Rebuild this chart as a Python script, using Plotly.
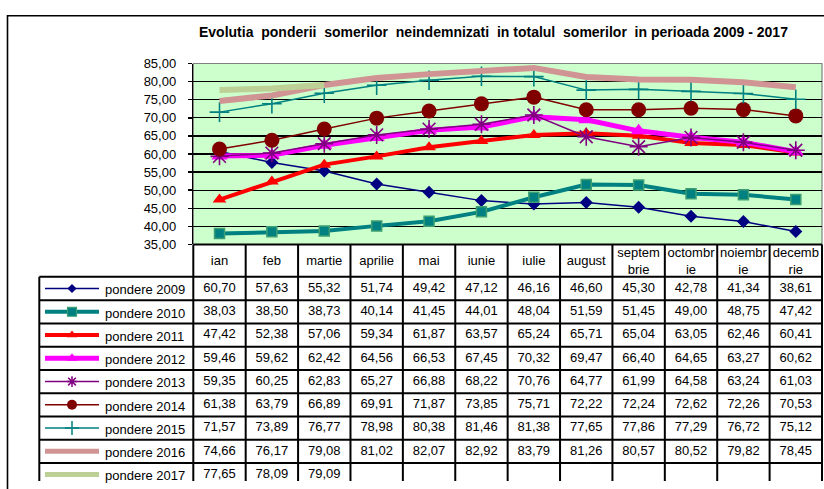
import plotly.graph_objects as go

# ---------------- data ----------------
months = ["ian", "feb", "martie", "aprilie", "mai", "iunie", "iulie", "august",
          "septembrie", "octombrie", "noiembrie", "decembrie"]
month_labels = ["ian", "feb", "martie", "aprilie", "mai", "iunie", "iulie", "august",
                "septem<br>brie", "octombr<br>ie", "noiembr<br>ie", "decemb<br>rie"]

pondere_2009 = [60.70, 57.63, 55.32, 51.74, 49.42, 47.12, 46.16, 46.60, 45.30, 42.78, 41.34, 38.61]
pondere_2010 = [38.03, 38.50, 38.73, 40.14, 41.45, 44.01, 48.04, 51.59, 51.45, 49.00, 48.75, 47.42]
pondere_2011 = [47.42, 52.38, 57.06, 59.34, 61.87, 63.57, 65.24, 65.71, 65.04, 63.05, 62.46, 60.41]
pondere_2012 = [59.46, 59.62, 62.42, 64.56, 66.53, 67.45, 70.32, 69.47, 66.40, 64.65, 63.27, 60.62]
pondere_2013 = [59.35, 60.25, 62.83, 65.27, 66.88, 68.22, 70.76, 64.77, 61.99, 64.58, 63.24, 61.03]
pondere_2014 = [61.38, 63.79, 66.89, 69.91, 71.87, 73.85, 75.71, 72.22, 72.24, 72.62, 72.26, 70.53]
pondere_2015 = [71.57, 73.89, 76.77, 78.98, 80.38, 81.46, 81.38, 77.65, 77.86, 77.29, 76.72, 75.12]
pondere_2016 = [74.66, 76.17, 79.08, 81.02, 82.07, 82.92, 83.79, 81.26, 80.57, 80.52, 79.82, 78.45]
pondere_2017 = [77.65, 78.09, 79.09]

series_names = ["pondere 2009", "pondere 2010", "pondere 2011", "pondere 2012", "pondere 2013",
                "pondere 2014", "pondere 2015", "pondere 2016", "pondere 2017"]
series_values = [pondere_2009, pondere_2010, pondere_2011, pondere_2012, pondere_2013,
                 pondere_2014, pondere_2015, pondere_2016, pondere_2017]

title_text = ("Evolutia\u00a0 ponderii\u00a0 somerilor\u00a0 neindemnizati\u00a0 in totalul\u00a0 "
              "somerilor\u00a0 in perioada 2009 - 2017")

# ---------------- styles ----------------
styles = [
    dict(color="#000080", width=1.5, symbol="diamond", size=10, msize=7, lw=1.5, mline=None),
    dict(color="#008080", width=4, symbol="square", size=10, msize=9, lw=4, mline="#3E9E72"),
    dict(color="#FF0000", width=4, symbol="triangle-up", size=12, msize=9, lw=4, mline=None),
    dict(color="#FF00FF", width=5, symbol="triangle-up", size=14, msize=10, lw=5, mline=None),
    dict(color="#800080", width=1.5, symbol="asterisk-open", size=15, msize=9, lw=1.5, mline=None),
    dict(color="#800000", width=1.5, symbol="circle", size=15, msize=10, lw=1.5, mline=None),
    dict(color="#008080", width=1.5, symbol="cross-thin-open", size=14, msize=10, lw=1.5, mline=None),
    dict(color="#D19494", width=6, symbol=None, size=0, msize=0, lw=5, mline=None),
    dict(color="#BDD095", width=6, symbol=None, size=0, msize=0, lw=5, mline=None),
]

W, H = 824, 489
FONT = "Liberation Sans, Arial, sans-serif"
TXT = 13

# pixel geometry
plot_left, plot_right = 193.3, 822.0
plot_top, plot_bottom = 58.3, 245.0
n = len(months)
cw = (plot_right - plot_left) / n          # column width in px
row_h = 24.0
header_h = 33.4 / row_h                   # header height in row units
legend_left_px = 39.3

def px_x(px):
    return px / W

def px_y(py):
    return 1 - py / H

def col_units(px):
    return -0.5 + (px - plot_left) / cw

fig = go.Figure()

# ---------------- main lines ----------------
xs = list(range(n))
for name, vals, st in zip(series_names, series_values, styles):
    mode = "lines+markers" if st["symbol"] else "lines"
    marker = dict(symbol=st["symbol"] or "circle", size=st["size"], color=st["color"])
    if st["symbol"] in ("asterisk-open", "cross-thin-open"):
        marker["line"] = dict(color=st["color"], width=1.6)
    elif st["mline"]:
        marker["line"] = dict(color=st["mline"], width=1.5)
    else:
        marker["line"] = dict(width=0)
    fig.add_trace(go.Scatter(
        x=xs[:len(vals)], y=vals, mode=mode, name=name,
        line=dict(color=st["color"], width=st["width"]),
        marker=marker, xaxis="x", yaxis="y", showlegend=False, hoverinfo="skip",
    ))

# ---------------- data table (x2 / y2) ----------------
x2_left_px, x2_right_px = 36.0, 824.0
y2_top_px, y2_bottom_px = 241.0, 489.0
x2_range = [col_units(x2_left_px), col_units(x2_right_px)]
y2_range = [(y2_bottom_px - plot_bottom) / row_h, (y2_top_px - plot_bottom) / row_h]

key_x0 = col_units(45.0)
key_x1 = col_units(99.0)
key_xm = (key_x0 + key_x1) / 2
label_x = col_units(103.0)
leg_left = col_units(legend_left_px)

# header labels
fig.add_trace(go.Scatter(
    x=xs, y=[header_h / 2 + 0.05] * n, text=month_labels, mode="text",
    textfont=dict(family=FONT, size=TXT, color="#000000"),
    xaxis="x2", yaxis="y2", showlegend=False, hoverinfo="skip",
))

for k, (name, vals, st) in enumerate(zip(series_names, series_values, styles)):
    yc = header_h + k + 0.5
    # values
    txt = [f"{v:.2f}".replace(".", ",") for v in vals]
    fig.add_trace(go.Scatter(
        x=xs[:len(vals)], y=[yc] * len(vals), text=txt, mode="text",
        textfont=dict(family=FONT, size=TXT, color="#000000"),
        xaxis="x2", yaxis="y2", showlegend=False, hoverinfo="skip",
    ))
    # legend key line
    key = dict(x=[key_x0, key_xm, key_x1], y=[yc] * 3, xaxis="x2", yaxis="y2",
               showlegend=False, hoverinfo="skip",
               line=dict(color=st["color"], width=st["lw"]))
    if st["symbol"]:
        mk = dict(symbol=st["symbol"], size=st["msize"], color=st["color"], opacity=[0, 1, 0])
        if st["symbol"] in ("asterisk-open", "cross-thin-open"):
            mk["line"] = dict(color=st["color"], width=1.5)
        elif st["mline"]:
            mk["line"] = dict(color=st["mline"], width=1.2)
        else:
            mk["line"] = dict(width=0)
        fig.add_trace(go.Scatter(mode="lines+markers", marker=mk, **key))
    else:
        fig.add_trace(go.Scatter(mode="lines", **key))
    fig.add_annotation(x=label_x, y=yc + 0.06, xref="x2", yref="y2", text=name,
                       showarrow=False, xanchor="left", yanchor="middle",
                       font=dict(family=FONT, size=TXT, color="#000000"))

shapes = []
# plot area background
shapes.append(dict(type="rect", xref="x domain", yref="y domain", x0=0, x1=1, y0=0, y1=1,
                   fillcolor="#CCFFCC", line=dict(color="#808080", width=1.2), layer="below"))
# outer chart border
shapes.append(dict(type="rect", xref="paper", yref="paper", x0=px_x(7.5), x1=1.05,
                   y0=-0.05, y1=px_y(9.0), line=dict(color="#000000", width=1.6),
                   fillcolor="rgba(0,0,0,0)"))
nrows = len(series_names)
bottom_units = y2_range[0] + 1
tl = dict(color="#000000", width=2)
# vertical table lines
for c in range(n + 1):
    shapes.append(dict(type="line", xref="x2", yref="y2", x0=c - 0.5, x1=c - 0.5,
                       y0=0, y1=bottom_units, line=tl))
shapes.append(dict(type="line", xref="x2", yref="y2", x0=leg_left, x1=leg_left,
                   y0=header_h, y1=bottom_units, line=tl))
# horizontal table lines
shapes.append(dict(type="line", xref="x2", yref="y2", x0=-0.5, x1=n - 0.5, y0=0, y1=0, line=tl))
for r in range(nrows + 1):
    shapes.append(dict(type="line", xref="x2", yref="y2", x0=leg_left, x1=n - 0.5,
                       y0=header_h + r, y1=header_h + r, line=tl))

fig.add_annotation(x=px_x(494), y=px_y(26), xref="paper", yref="paper", text=f"<b>{title_text}</b>",
                   showarrow=False, xanchor="center", yanchor="middle",
                   font=dict(family=FONT, size=14, color="#000000"))

fig.update_layout(
    width=W, height=H,
    margin=dict(l=0, r=0, t=0, b=0),
    paper_bgcolor="#FFFFFF",
    plot_bgcolor="rgba(0,0,0,0)",
    separators=",.",
    showlegend=False,
    shapes=shapes,
    font=dict(family=FONT, size=TXT, color="#000000"),
    xaxis=dict(domain=[px_x(plot_left), px_x(plot_right)], range=[-0.5, n - 0.5],
               showticklabels=False, showgrid=False, zeroline=False, showline=False, ticks=""),
    yaxis=dict(domain=[px_y(plot_bottom), px_y(plot_top)], range=[35, 85], dtick=5, tick0=35,
               tickformat=".2f", showgrid=True, gridcolor="#000000", gridwidth=1.3,
               zeroline=False, showline=True, linecolor="#000000", linewidth=1.5,
               ticks="outside", ticklen=4, tickwidth=1.5, tickcolor="#000000",
               ticklabelstandoff=9,
               tickfont=dict(family=FONT, size=TXT, color="#000000")),
    xaxis2=dict(domain=[px_x(x2_left_px), px_x(x2_right_px)], range=x2_range, visible=False,
                anchor="y2"),
    yaxis2=dict(domain=[px_y(y2_bottom_px), px_y(y2_top_px)], range=y2_range, visible=False,
                anchor="x2"),
)

fig.write_html(
    "out.html",
    config={"displayModeBar": False, "staticPlot": True},
    post_script="document.body.style.margin='0';document.body.style.padding='0';"
                "document.body.style.overflow='hidden';"
                "document.documentElement.style.overflow='hidden';",
)
